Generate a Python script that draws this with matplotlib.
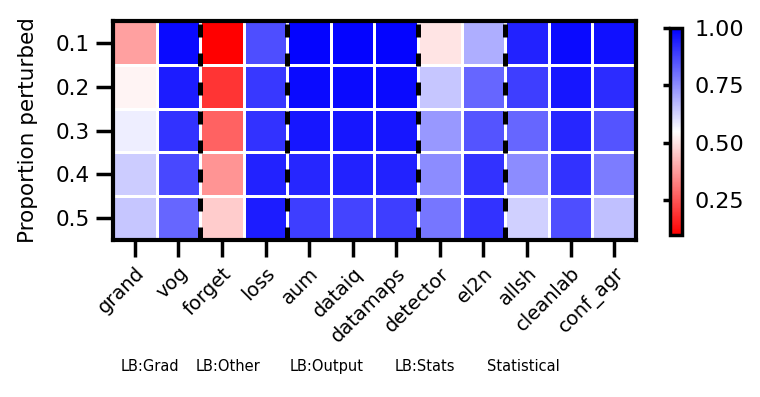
import numpy as np
import matplotlib
matplotlib.use("Agg")
import matplotlib.pyplot as plt

# methods (columns) and proportion perturbed (rows)
methods = ["grand", "vog", "forget", "loss", "aum", "dataiq", "datamaps",
           "detector", "el2n", "allsh", "cleanlab", "conf_agr"]
proportions = ["0.1", "0.2", "0.3", "0.4", "0.5"]

# values per method, one per proportion
grand = [0.38, 0.53, 0.58, 0.64, 0.65]
vog = [0.98, 0.95, 0.91, 0.87, 0.82]
forget = [0.10, 0.19, 0.27, 0.36, 0.46]
loss = [0.86, 0.90, 0.91, 0.94, 0.95]
aum = [0.99, 0.98, 0.96, 0.93, 0.89]
dataiq = [0.99, 0.98, 0.96, 0.94, 0.88]
datamaps = [0.99, 0.98, 0.96, 0.94, 0.89]
detector = [0.50, 0.65, 0.73, 0.75, 0.79]
el2n = [0.69, 0.82, 0.85, 0.91, 0.91]
allsh = [0.94, 0.89, 0.82, 0.75, 0.63]
cleanlab = [0.98, 0.96, 0.93, 0.91, 0.86]
conf_agr = [0.97, 0.92, 0.85, 0.78, 0.66]

groups = ["LB:Grad", "LB:Other", "LB:Output", "LB:Stats", "Statistical"]
group_ends = [2, 4, 7, 9, 12]
group_x = [0.197, 0.300, 0.430, 0.559, 0.688]

data = np.array([grand, vog, forget, loss, aum, dataiq, datamaps,
                 detector, el2n, allsh, cleanlab, conf_agr]).T

fig = plt.figure(figsize=(7.6, 3.97), dpi=100)
ax = fig.add_axes([0.1487, 0.3955, 0.6881, 0.5515])
cax = fig.add_axes([0.8816, 0.408, 0.0158, 0.5214])

mesh = ax.pcolormesh(data, cmap="bwr_r", vmin=0.097, vmax=1.0,
                     edgecolors="white", linewidth=1)
ax.set_xlim(0, len(methods))
ax.set_ylim(len(proportions), 0)

# dashed lines between method groups
for e in group_ends:
    ax.axvline(e, color="black", linestyle="--", linewidth=3.6, dashes=(2.6, 3.2))

ax.set_xticks(np.arange(len(methods)) + 0.5)
ax.set_xticklabels(methods, rotation=45, ha="right", rotation_mode="anchor",
                   fontsize=14)
ax.set_yticks(np.arange(len(proportions)) + 0.5)
ax.set_yticklabels(proportions, fontsize=15.5)
ax.set_ylabel("Proportion perturbed", fontsize=15.5)
ax.yaxis.set_label_coords(-0.1425, 0.5)
ax.tick_params(length=12, width=2.5, pad=5)
for s in ax.spines.values():
    s.set_linewidth(3)

cb = fig.colorbar(mesh, cax=cax, ticks=[0.25, 0.5, 0.75, 1.0])
cb.ax.set_yticklabels(["0.25", "0.50", "0.75", "1.00"])
cb.ax.tick_params(labelsize=16, length=5, width=2.5, left=True, right=False, pad=4)
cb.outline.set_linewidth(2.5)

for g, x in zip(groups, group_x):
    fig.text(x, 0.0756, g, ha="center", va="center", fontsize=10.5)

fig.savefig("out.png", dpi=100)
